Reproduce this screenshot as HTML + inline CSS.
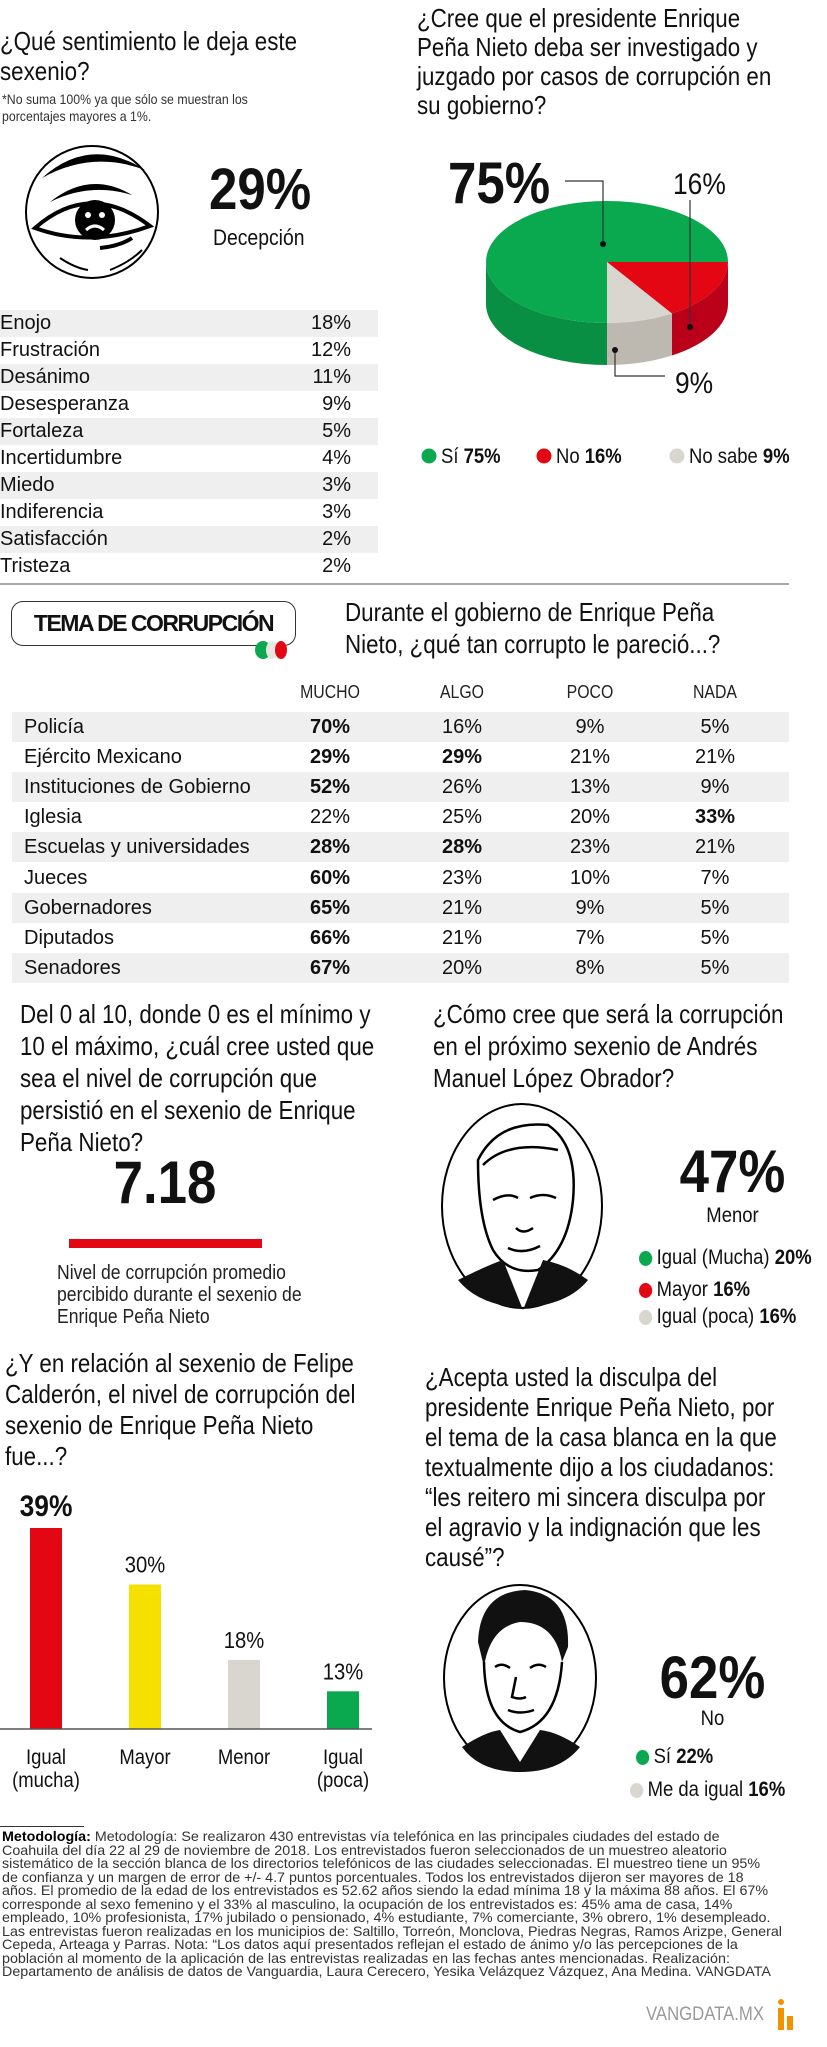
<!DOCTYPE html>
<html lang="es"><head><meta charset="utf-8">
<style>
*{margin:0;padding:0;box-sizing:border-box}
body{width:827px;height:2047px;background:#fff;position:relative;overflow:hidden;font-family:"Liberation Sans",sans-serif;color:#111}
.a{position:absolute;white-space:nowrap}
.q{font-size:26px;line-height:30px;color:#111;transform:scaleX(.86);transform-origin:0 0}
.n{transform:scaleX(.88);transform-origin:0 0}
.nc{transform:scaleX(.88);transform-origin:50% 0}
.b{font-weight:bold}
.dot{display:inline-block;width:15px;height:15px;border-radius:50%;vertical-align:-2px;margin-right:5px}
</style></head><body>

<div class="a q" style="left:0;top:26px">¿Qué sentimiento le deja este<br>sexenio?</div>
<div class="a n" style="left:2px;top:91px;font-size:14px;line-height:17px;color:#333">*No suma 100% ya que sólo se muestran los<br>porcentajes mayores a 1%.</div>

<svg class="a" style="left:20px;top:140px" width="145" height="145" viewBox="0 0 145 145">
<ellipse cx="72" cy="72" rx="66" ry="66" fill="#fff" stroke="#000" stroke-width="2"/>
<path d="M22 38 Q70 -5 125 30 Q72 10 22 38Z" fill="#000"/>
<path d="M30 62 Q70 30 112 55 Q70 42 30 62Z" fill="#000"/>
<path d="M15 88 Q70 40 130 86 Q70 108 15 88Z" fill="#fff" stroke="#000" stroke-width="4"/>
<circle cx="75" cy="80" r="20" fill="#000"/>
<circle cx="68" cy="75" r="3" fill="#fff"/><circle cx="82" cy="75" r="3" fill="#fff"/>
<path d="M66 90 Q75 82 84 90" stroke="#fff" stroke-width="3" fill="none"/>
<path d="M80 108 Q100 106 112 98" stroke="#000" stroke-width="4" fill="none"/>
<path d="M40 118 Q55 128 68 130 M90 130 Q110 122 122 110" stroke="#000" stroke-width="2" fill="none"/>
</svg>
<div class="a b n" style="left:209px;top:158px;font-size:58px;line-height:64px">29%</div>
<div class="a n" style="left:213px;top:226px;font-size:22px;line-height:24px">Decepción</div>

<div id="feel"></div>

<div class="a" style="left:0;top:583px;width:789px;height:2px;background:#aaa"></div>

<div class="a q" style="left:417px;top:4px;line-height:29px">¿Cree que el presidente Enrique<br>Peña Nieto deba ser investigado y<br>juzgado por casos de corrupción en<br>su gobierno?</div>
<svg class="a" id="pie" style="left:0;top:0" width="827" height="480"></svg>

<div class="a" style="left:11px;top:601px;width:285px;height:45px;border:1.5px solid #333;border-radius:12px;text-align:center;font-size:23px;line-height:42px;font-weight:bold;letter-spacing:-1.5px">TEMA DE CORRUPCIÓN</div>
<svg class="a" style="left:254px;top:640px" width="36" height="20"><ellipse cx="9" cy="10" rx="8" ry="9" fill="#0aa84f"/><ellipse cx="18" cy="10" rx="6" ry="9" fill="#e8e6e0"/><ellipse cx="27" cy="10" rx="6" ry="9" fill="#e30613"/></svg>
<div class="a q" style="left:345px;top:596px;line-height:32px">Durante el gobierno de Enrique Peña<br>Nieto, ¿qué tan corrupto le pareció...?</div>
<div id="corr"></div>

<div class="a q" style="left:20px;top:998px;line-height:32px">Del 0 al 10, donde 0 es el mínimo y<br>10 el máximo, ¿cuál cree usted que<br>sea el nivel de corrupción que<br>persistió en el sexenio de Enrique<br>Peña Nieto?</div>
<div class="a b nc" style="left:69px;top:1148px;width:192px;text-align:center;font-size:60px;line-height:70px">7.18</div>
<div class="a" style="left:69px;top:1239px;width:193px;height:9px;background:#e30613"></div>
<div class="a n" style="left:57px;top:1262px;font-size:20px;line-height:22px;color:#222">Nivel de corrupción promedio<br>percibido durante el sexenio de<br>Enrique Peña Nieto</div>

<div class="a q" style="left:433px;top:998px;line-height:32px">¿Cómo cree que será la corrupción<br>en el próximo sexenio de Andrés<br>Manuel López Obrador?</div>
<svg class="a" style="left:438px;top:1100px" width="170" height="215" viewBox="0 0 170 215">
<ellipse cx="84" cy="106" rx="80" ry="102" fill="#fff" stroke="#000" stroke-width="2"/>
<path d="M40 60 Q60 20 110 25 Q140 45 135 100 Q130 150 100 170 Q70 175 55 150 Q40 120 40 60Z" fill="#fff" stroke="#000" stroke-width="2.5"/>
<path d="M45 65 Q70 40 120 50 M55 100 Q70 92 80 98 M92 98 Q105 92 118 98 M78 128 Q85 135 95 128 M70 148 Q85 155 102 146" stroke="#000" stroke-width="2.5" fill="none"/>
<path d="M20 180 Q50 165 65 160 L85 210 L105 160 Q130 165 150 180 Q130 205 84 208 Q40 205 20 180Z" fill="#111"/>
</svg>
<div class="a b nc" style="left:660px;top:1140px;width:145px;text-align:center;font-size:60px;line-height:64px">47%</div>
<div class="a nc" style="left:660px;top:1204px;width:145px;text-align:center;font-size:21px;line-height:24px">Menor</div>
<div class="a n" style="left:639px;top:1246px;font-size:21px;line-height:24px"><span class="dot" style="background:#0aa84f"></span>Igual (Mucha) <b>20%</b></div>
<div class="a n" style="left:639px;top:1278px;font-size:21px;line-height:24px"><span class="dot" style="background:#e30613"></span>Mayor <b>16%</b></div>
<div class="a n" style="left:639px;top:1305px;font-size:21px;line-height:24px"><span class="dot" style="background:#d9d6d0"></span>Igual (poca) <b>16%</b></div>

<div class="a q" style="left:5px;top:1348px;line-height:31px">¿Y en relación al sexenio de Felipe<br>Calderón, el nivel de corrupción del<br>sexenio de Enrique Peña Nieto<br>fue...?</div>
<svg class="a" id="bars" style="left:0;top:1467px" width="380" height="340"></svg>

<div class="a q" style="left:425px;top:1362px;line-height:30px">¿Acepta usted la disculpa del<br>presidente Enrique Peña Nieto, por<br>el tema de la casa blanca en la que<br>textualmente dijo a los ciudadanos:<br>“les reitero mi sincera disculpa por<br>el agravio y la indignación que les<br>causé”?</div>
<svg class="a" style="left:440px;top:1582px" width="160" height="195" viewBox="0 0 160 195">
<ellipse cx="80" cy="96" rx="76" ry="93" fill="#fff" stroke="#000" stroke-width="2"/>
<path d="M38 60 Q40 10 85 8 Q130 12 128 65 L122 80 Q115 40 80 40 Q50 45 44 85Z" fill="#111"/>
<path d="M44 80 Q45 140 80 150 Q118 140 122 80" fill="none" stroke="#000" stroke-width="2.5"/>
<path d="M55 85 Q62 80 70 86 M90 86 Q98 80 106 85 M76 95 L72 115 Q80 118 86 115 M68 128 Q80 133 94 128" stroke="#000" stroke-width="2.5" fill="none"/>
<path d="M22 165 Q45 150 60 148 L80 180 L100 148 Q118 150 140 165 Q120 190 80 190 Q40 190 22 165Z" fill="#111"/>
</svg>
<div class="a b nc" style="left:640px;top:1646px;width:145px;text-align:center;font-size:60px;line-height:64px">62%</div>
<div class="a nc" style="left:640px;top:1707px;width:145px;text-align:center;font-size:21px;line-height:24px">No</div>
<div class="a n" style="left:636px;top:1745px;font-size:21px;line-height:24px"><span class="dot" style="background:#0aa84f"></span>Sí <b>22%</b></div>
<div class="a n" style="left:630px;top:1778px;font-size:21px;line-height:24px"><span class="dot" style="background:#d9d6d0"></span>Me da igual <b>16%</b></div>

<div class="a" style="left:0;top:1826px;width:84px;height:1px;background:#333"></div>
<div class="a" style="left:2px;top:1830px;font-size:14px;line-height:13.5px;color:#333;transform:scaleX(1.02);transform-origin:0 0"><b style="color:#000">Metodología:</b> Metodología: Se realizaron 430 entrevistas vía telefónica en las principales ciudades del estado de<br>Coahuila del día 22 al 29 de noviembre de 2018. Los entrevistados fueron seleccionados de un muestreo aleatorio<br>sistemático de la sección blanca de los directorios telefónicos de las ciudades seleccionadas. El muestreo tiene un 95%<br>de confianza y un margen de error de +/- 4.7 puntos porcentuales. Todos los entrevistados dijeron ser mayores de 18<br>años. El promedio de la edad de los entrevistados es 52.62 años siendo la edad mínima 18 y la máxima 88 años. El 67%<br>corresponde al sexo femenino y el 33% al masculino, la ocupación de los entrevistados es: 45% ama de casa, 14%<br>empleado, 10% profesionista, 17% jubilado o pensionado, 4% estudiante, 7% comerciante, 3% obrero, 1% desempleado.<br>Las entrevistas fueron realizadas en los municipios de: Saltillo, Torreón, Monclova, Piedras Negras, Ramos Arizpe, General<br>Cepeda, Arteaga y Parras. Nota: “Los datos aquí presentados reflejan el estado de ánimo y/o las percepciones de la<br>población al momento de la aplicación de las entrevistas realizadas en las fechas antes mencionadas. Realización:<br>Departamento de análisis de datos de Vanguardia, Laura Cerecero, Yesika Velázquez Vázquez, Ana Medina. VANGDATA</div>
<div class="a n" style="left:646px;top:2004px;font-size:19px;line-height:22px;color:#999">VANGDATA.MX</div>
<svg class="a" style="left:776px;top:1998px" width="22" height="34"><circle cx="5" cy="4" r="3" fill="#f39200"/><rect x="2" y="10" width="6" height="22" fill="#f39200"/><rect x="11" y="18" width="6" height="14" fill="#f39200"/></svg>

<script>
const NS='http://www.w3.org/2000/svg';
function mk(parent,tag,attrs){const e=document.createElementNS(NS,tag);for(const k in attrs)e.setAttribute(k,attrs[k]);parent.appendChild(e);return e;}

/* feelings table */
const feelLabels=['Enojo','Frustración','Desánimo','Desesperanza','Fortaleza','Incertidumbre','Miedo','Indiferencia','Satisfacción','Tristeza'];
const feelValues=[18,12,11,9,5,4,3,3,2,2];
const feel=document.getElementById('feel');
feelLabels.forEach((l,i)=>{
  const cy=323+i*27.1;
  const r=document.createElement('div');
  
  
  r.className='a';
  r.style.cssText=`left:0;top:${cy-13.5}px;width:378px;height:27px;font-size:20px;line-height:27px;background:${i%2==0?'#efefef':'transparent'}`;
  r.innerHTML=`<span style="position:absolute;left:0">${l}</span><span style="position:absolute;right:27px">${feelValues[i]}%</span>`;
  feel.appendChild(r);
});

/* pie */
const pieLabels=['Sí','No','No sabe'];
const pieValues=[75,16,9];
const pieColors=['#0aa84f','#e30613','#d9d6d0'];
const pieSide=['#088f43','#bb0019','#bdb8b0'];
const pie=document.getElementById('pie');
const cx=607,cy=262,rx=121,ry=61,dep=42;
const total=pieValues.reduce((a,b)=>a+b,0);
const endAngle=90;
const angleOf=v=>v/total*360;
const P=(a,dy)=>[cx+rx*Math.cos(a*Math.PI/180),cy+(dy||0)+ry*Math.sin(a*Math.PI/180)];
let slices=[];let acc=0;
pieValues.forEach((v,i)=>{const s=endAngle+acc;acc+=angleOf(v);slices.push([s,endAngle+acc]);});
slices.forEach(([s,e],i)=>{
  for(const off of [0,360,720]){
    const a0=Math.max(s,off),a1=Math.min(e,off+180);
    if(a1>a0){
      const p0=P(a0),p1=P(a1),q1=P(a1,dep),q0=P(a0,dep);
      const el=mk(pie,'path',{d:`M${p0} A${rx} ${ry} 0 0 1 ${p1} L${q1} A${rx} ${ry} 0 0 0 ${q0}Z`,fill:pieSide[i]});
      
      
    }
  }
});
slices.forEach(([s,e],i)=>{
  const p0=P(s),p1=P(e);const large=(e-s)>180?1:0;
  const el=mk(pie,'path',{d:`M${cx},${cy} L${p0} A${rx} ${ry} 0 ${large} 1 ${p1}Z`,fill:pieColors[i]});
  
  
});
mk(pie,'path',{d:'M565 181 H603 V244',stroke:'#333','stroke-width':1.2,fill:'none'});
mk(pie,'circle',{cx:603,cy:244,r:3,fill:'#111'});
mk(pie,'path',{d:'M690 200 V327',stroke:'#333','stroke-width':1.2,fill:'none'});
mk(pie,'circle',{cx:690,cy:327,r:3,fill:'#111'});
mk(pie,'path',{d:'M615 350 V376 H665',stroke:'#333','stroke-width':1.2,fill:'none'});
mk(pie,'circle',{cx:615,cy:350,r:3,fill:'#111'});
function txt(parent,x,y,s,size,weight,anchor,name){const t=mk(parent,'text',{x:0,y:0,transform:`translate(${x},${y}) scale(0.88,1)`,'font-size':size,'font-weight':weight||'normal','text-anchor':anchor||'start','font-family':"Liberation Sans, sans-serif",fill:'#111'});t.textContent=s;return t;}
txt(pie,448,203,pieValues[0]+'%',58,'bold','start','pie-label-si');
txt(pie,673,194,pieValues[1]+'%',30,'normal','start','pie-label-no');
txt(pie,675,393,pieValues[2]+'%',30,'normal','start','pie-label-no-sabe');
const legX=[422,537,670];
pieLabels.forEach((l,i)=>{
  const c=mk(pie,'circle',{cx:legX[i]+7,cy:456,r:7.5,fill:pieColors[i]});
  
  const t=txt(pie,legX[i]+19,463,l+' ',21,'normal','start','legend-entry-'+l);
  const b=mk(t,'tspan',{'font-weight':'bold'});b.textContent=pieValues[i]+'%';
});

/* corruption table */
const corrCols=['MUCHO','ALGO','POCO','NADA'];
const corrRows=['Policía','Ejército Mexicano','Instituciones de Gobierno','Iglesia','Escuelas y universidades','Jueces','Gobernadores','Diputados','Senadores'];
const mucho=[70,29,52,22,28,60,65,66,67];
const algo=[16,29,26,25,28,23,21,21,20];
const poco=[9,21,13,20,23,10,9,7,8];
const nada=[5,21,9,33,21,7,5,5,5];
const series=[mucho,algo,poco,nada];
const colX=[330,462,590,715];
const corr=document.getElementById('corr');
corrCols.forEach((c,j)=>{
  const d=document.createElement('div');
  
  
  d.className='a nc';d.style.cssText=`left:${colX[j]-50}px;width:100px;text-align:center;top:680px;font-size:18px;line-height:24px;color:#222`;
  d.textContent=c;corr.appendChild(d);
});
corrRows.forEach((r,i)=>{
  const cy=727+i*30.1;
  const row=document.createElement('div');
  
  
  row.className='a';
  row.style.cssText=`left:12px;top:${cy-15}px;width:777px;height:30px;font-size:20px;line-height:30px;background:${i%2==0?'#efefef':'transparent'}`;
  const mx=Math.max(...series.map(s=>s[i]));
  let h=`<span style="position:absolute;left:12px">${r}</span>`;
  series.forEach((s,j)=>{h+=`<span style="position:absolute;left:${colX[j]-12-40}px;width:80px;text-align:center;${s[i]===mx?'font-weight:bold':''}">${s[i]}%</span>`;});
  row.innerHTML=h;corr.appendChild(row);
});

/* calderon bar chart */
const barCats=[['Igual','(mucha)'],['Mayor'],['Menor'],['Igual','(poca)']];
const barValues=[39,30,18,13];
const barColors=['#e30613','#f5e000','#d9d6d0','#0aa84f'];
const bars=document.getElementById('bars');
const base=262, yDomain=[7,39], yRange=[0,201];
const y=v=>base-((v-yDomain[0])/(yDomain[1]-yDomain[0]))*(yRange[1]-yRange[0]);
const xC=i=>46+i*99;
barValues.forEach((v,i)=>{
  const r=mk(bars,'rect',{x:xC(i)-16,y:y(v),width:32,height:base-y(v),fill:barColors[i]});
  
  txt(bars,xC(i),y(v)-12,v+'%',i==0?30:23,i==0?'bold':'normal','middle','bar-value-label');
  barCats[i].forEach((l,k)=>txt(bars,xC(i),297+k*23,l,21,'normal','middle','bar-category-label'));
});
const ax=mk(bars,'line',{x1:0,x2:372,y1:base,y2:base,stroke:'#555','stroke-width':1.5});

</script>
</body></html>
